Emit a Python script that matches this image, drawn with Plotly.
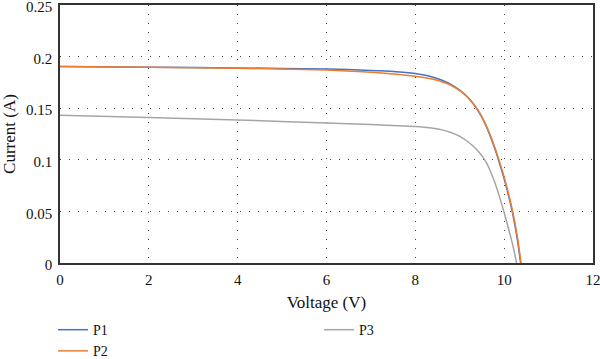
import plotly.graph_objects as go

v1 = [0, 2, 4, 6, 7, 7.5, 8.0, 8.2, 8.4, 8.6, 8.8, 9.0, 9.1, 9.2, 9.3, 9.4, 9.5, 9.6, 9.7, 9.8, 9.9, 10.0, 10.1, 10.2, 10.3, 10.37]
i1 = [0.1905, 0.1898, 0.1890, 0.1880, 0.1866, 0.1856, 0.1836, 0.1821, 0.1800, 0.1771, 0.1730, 0.1675, 0.1640, 0.1597, 0.1545, 0.1485, 0.1410, 0.1320, 0.1215, 0.1095, 0.0960, 0.0815, 0.0650, 0.0460, 0.0220, 0.0]

v2 = [0, 2, 4, 6, 7, 7.5, 8.0, 8.2, 8.4, 8.6, 8.8, 9.0, 9.1, 9.2, 9.3, 9.4, 9.5, 9.6, 9.7, 9.8, 9.9, 10.0, 10.1, 10.2, 10.3, 10.38]
i2 = [0.1903, 0.1896, 0.1886, 0.1870, 0.1848, 0.1832, 0.1810, 0.1797, 0.1780, 0.1756, 0.1722, 0.1670, 0.1637, 0.1596, 0.1546, 0.1488, 0.1415, 0.1328, 0.1226, 0.1108, 0.0975, 0.0832, 0.0670, 0.0482, 0.0245, 0.0]

v3 = [0, 2, 4, 6, 7, 8.0, 8.2, 8.4, 8.6, 8.8, 9.0, 9.2, 9.3, 9.4, 9.5, 9.6, 9.7, 9.8, 9.9, 10.0, 10.1, 10.2, 10.28]
i3 = [0.1432, 0.1410, 0.1386, 0.1356, 0.1342, 0.1322, 0.1316, 0.1306, 0.1290, 0.1265, 0.1227, 0.1170, 0.1133, 0.1090, 0.1038, 0.0972, 0.0880, 0.0768, 0.0635, 0.0488, 0.0330, 0.0162, 0.0]

x_ticks = [0, 2, 4, 6, 8, 10, 12]
y_ticks = [0, 0.05, 0.1, 0.15, 0.2, 0.25]
y_tick_text = ["0", "0.05", "0.1", "0.15", "0.2", "0.25"]

FONT = "Liberation Serif"
TXT = "#111111"

fig = go.Figure()
fig.add_trace(go.Scatter(x=v1, y=i1, mode="lines", name="P1",
                         line=dict(color="#4472C4", width=1.5, shape="spline", smoothing=0.6), legend="legend"))
fig.add_trace(go.Scatter(x=v2, y=i2, mode="lines", name="P2",
                         line=dict(color="#ED7D31", width=1.5, shape="spline", smoothing=0.6), legend="legend"))
fig.add_trace(go.Scatter(x=v3, y=i3, mode="lines", name="P3",
                         line=dict(color="#A5A5A5", width=1.5, shape="spline", smoothing=0.6), legend="legend2"))

axis_common = dict(
    showline=True, linecolor="#333333", linewidth=1.5, mirror=True,
    showgrid=True, gridcolor="#444444", gridwidth=1, griddash="1px,8px",
    zeroline=False, ticks="", tickfont=dict(family=FONT, size=15, color=TXT),
    automargin=False, ticklabeloverflow="allow",
)

fig.update_xaxes(range=[0, 12], tickvals=x_ticks, ticktext=[str(t) for t in x_ticks],
                 ticklabelstandoff=2,
                 title=dict(text="Voltage (V)", font=dict(family=FONT, size=17, color=TXT), standoff=9),
                 **axis_common)
fig.update_yaxes(range=[0, 0.25], tickvals=y_ticks, ticktext=y_tick_text,
                 ticklabelstandoff=3, ticklabelshift=2,
                 title=dict(text="Current (A)", font=dict(family=FONT, size=17, color=TXT), standoff=7),
                 **axis_common)

fig.update_layout(
    width=600, height=359,
    margin=dict(l=60, r=7, t=5, b=96, autoexpand=False),
    plot_bgcolor="white", paper_bgcolor="white",
    font=dict(family=FONT, size=15, color=TXT),
    legend=dict(x=-0.0131, y=-0.198, xanchor="left", yanchor="top", orientation="v",
                font=dict(family=FONT, size=14, color=TXT), tracegroupgap=0,
                itemwidth=30, bgcolor="rgba(0,0,0,0)"),
    legend2=dict(x=0.486, y=-0.198, xanchor="left", yanchor="top", orientation="v",
                 font=dict(family=FONT, size=14, color=TXT),
                 itemwidth=30, bgcolor="rgba(0,0,0,0)"),
)

fig.write_html("out.html", config={"displayModeBar": False},
               post_script="document.body.style.margin='0';document.body.style.padding='0';")
